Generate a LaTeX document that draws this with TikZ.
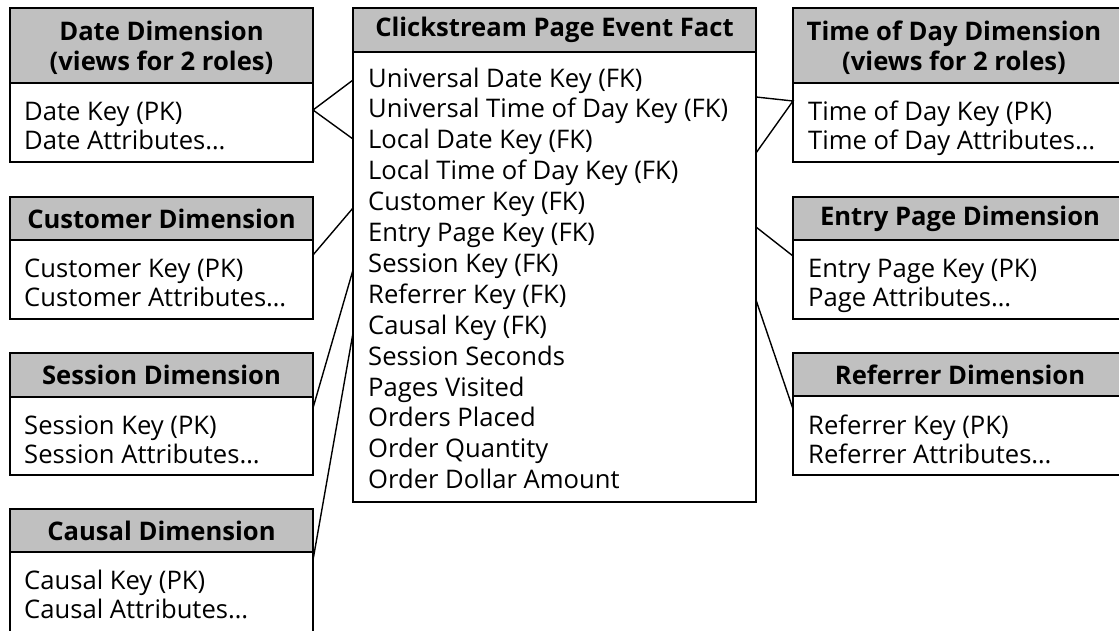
\documentclass[tikz,border=0pt]{standalone}
\usepackage{fontspec}
\setmainfont{Open Sans}
\definecolor{hdrgray}{RGB}{192,192,192}
\newcommand{\bodyfont}{\fontsize{25.6}{29}\selectfont}
\newcommand{\headfont}{\fontsize{25.6}{30}\selectfont\bfseries}
\begin{document}
\begin{tikzpicture}[x=1pt,y=-1pt,
  boxo/.style={draw=black,line width=2.6pt,fill=white,anchor=north west,inner sep=0pt,outer sep=0pt},
  hdr/.style={draw=black,line width=2.6pt,fill=hdrgray,anchor=north west,inner sep=0pt,outer sep=0pt},
  htxt/.style={font=\headfont,align=center,inner sep=0pt},
  btxt/.style={font=\bodyfont,anchor=base west,inner sep=0pt},
  link/.style={line width=1.4pt}]
\useasboundingbox (0,0) rectangle (1119,630);
\clip (0,0) rectangle (1119,630);
% ---- fact table
\node[boxo,minimum width=403pt,minimum height=494pt] (fact) at (353,8) {};
\node[hdr,minimum width=403pt,minimum height=44pt] (facth) at (353,8) {};
\node[htxt] (factt) at (facth.center) {Clickstream Page Event Fact};
\foreach \t [count=\i from 0] in {Universal Date Key (FK),Universal Time of Day Key (FK),Local Date Key (FK),Local Time of Day Key (FK),Customer Key (FK),Entry Page Key (FK),Session Key (FK),Referrer Key (FK),Causal Key (FK),Session Seconds,Pages Visited,Orders Placed,Order Quantity,Order Dollar Amount}
  \node[btxt] (f\i) at (368,87+30.9*\i) {\t};
% ---- left dimensions
\node[boxo,minimum width=303pt,minimum height=154pt] (date) at (10,8) {};
\node[hdr,minimum width=303pt,minimum height=75pt] (dateh) at (10,8) {};
\node[htxt] (datet) at ([yshift=-2pt]dateh.center) {Date Dimension\\(views for 2 roles)};
\node[btxt] (date1) at (24,120) {Date Key (PK)};
\node[btxt] (date2) at (24,149) {Date Attributes…};

\node[boxo,minimum width=303pt,minimum height=122pt] (cust) at (10,197) {};
\node[hdr,minimum width=303pt,minimum height=43pt] (custh) at (10,197) {};
\node[htxt] (custt) at (custh.center) {Customer Dimension};
\node[btxt] (cust1) at (24,277) {Customer Key (PK)};
\node[btxt] (cust2) at (24,306) {Customer Attributes…};

\node[boxo,minimum width=303pt,minimum height=122pt] (sess) at (10,353) {};
\node[hdr,minimum width=303pt,minimum height=44pt] (sessh) at (10,353) {};
\node[htxt] (sesst) at (sessh.center) {Session Dimension};
\node[btxt] (sess1) at (24,434) {Session Key (PK)};
\node[btxt] (sess2) at (24,463) {Session Attributes…};

\node[boxo,minimum width=303pt,minimum height=160pt] (caus) at (10,509) {};
\node[hdr,minimum width=303pt,minimum height=43pt] (caush) at (10,509) {};
\node[htxt] (caust) at (caush.center) {Causal Dimension};
\node[btxt] (caus1) at (24,589) {Causal Key (PK)};
\node[btxt] (caus2) at (24,618) {Causal Attributes…};
% ---- right dimensions
\node[boxo,minimum width=334pt,minimum height=154pt] (tod) at (793,8) {};
\node[hdr,minimum width=334pt,minimum height=75pt] (todh) at (793,8) {};
\node[htxt] (todt) at ([yshift=-2pt,xshift=-6pt]todh.center) {Time of Day Dimension\\(views for 2 roles)};
\node[btxt] (tod1) at (808,120) {Time of Day Key (PK)};
\node[btxt] (tod2) at (808,149) {Time of Day Attributes…};

\node[boxo,minimum width=334pt,minimum height=122pt] (entr) at (793,197) {};
\node[hdr,minimum width=334pt,minimum height=43pt] (entrh) at (793,197) {};
\node[htxt] (entrt) at (entrh.center) {Entry Page Dimension};
\node[btxt] (entr1) at (808,277) {Entry Page Key (PK)};
\node[btxt] (entr2) at (808,306) {Page Attributes…};

\node[boxo,minimum width=334pt,minimum height=122pt] (refr) at (793,353) {};
\node[hdr,minimum width=334pt,minimum height=43pt] (refrh) at (793,353) {};
\node[htxt] (refrt) at (refrh.center) {Referrer Dimension};
\node[btxt] (refr1) at (808,434) {Referrer Key (PK)};
\node[btxt] (refr2) at (808,463) {Referrer Attributes…};
% ---- connectors
\draw[link] (fact.west |- 0,80) -- (date.east |- 0,110) -- (fact.west |- 0,139);
\draw[link] (cust.east |- 0,255) -- (fact.west |- 0,208);
\draw[link] (sess.east |- 0,408) -- (fact.west |- 0,270);
\draw[link] (caus.east |- 0,560) -- (fact.west |- 0,333);
\draw[link] (fact.east |- 0,97) -- (tod.west |- 0,101) -- (fact.east |- 0,153);
\draw[link] (fact.east |- 0,227) -- (entr.west |- 0,256);
\draw[link] (fact.east |- 0,300) -- (refr.west |- 0,409);
\end{tikzpicture}
\end{document}
